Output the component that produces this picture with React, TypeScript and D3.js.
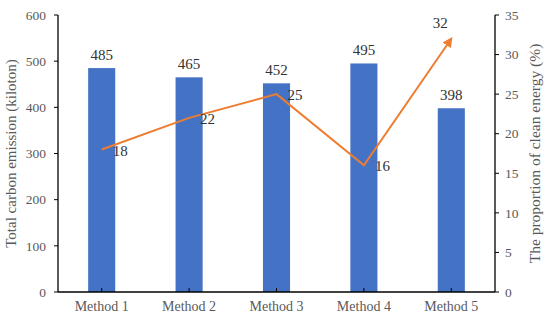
import React from "react";
import * as d3 from "d3";

const methods = ["Method 1", "Method 2", "Method 3", "Method 4", "Method 5"];
const emission = [485, 465, 452, 495, 398];
const cleanShare = [18, 22, 25, 16, 32];
const leftTicks = [0, 100, 200, 300, 400, 500, 600];
const rightTicks = [0, 5, 10, 15, 20, 25, 30, 35];

const W = 550;
const H = 322;
const m = { top: 15, right: 55, bottom: 30, left: 58 };
const FONT = "'Liberation Serif', 'Times New Roman', serif";

export default function App() {
  const x = d3
    .scaleBand()
    .domain(methods)
    .range([m.left, W - m.right])
    .paddingInner(0.69)
    .paddingOuter(0.345);
  const yL = d3.scaleLinear().domain([0, 600]).range([H - m.bottom, m.top]);
  const yR = d3.scaleLinear().domain([0, 35]).range([H - m.bottom, m.top]);
  const cx = (d: string) => (x(d) ?? 0) + x.bandwidth() / 2;

  const pts: [number, number][] = methods.map((d, i) => [cx(d), yR(cleanShare[i])]);
  const line = d3.line()(pts) ?? "";

  const x0 = m.left;
  const x1 = W - m.right;
  const yb = H - m.bottom;

  return (
    <svg
      width={W}
      height={H}
      style={{ position: "absolute", left: 0, top: 0, background: "#fff" }}
      fontFamily={FONT}
    >
      <defs>
        <marker
          id="arr"
          viewBox="0 0 10 10"
          refX="8"
          refY="5"
          markerWidth="5"
          markerHeight="5"
          orient="auto"
        >
          <path d="M0,0 L10,5 L0,10 z" fill="#ED7D31" />
        </marker>
      </defs>

      {/* bars */}
      {methods.map((d, i) => (
        <g key={d}>
          <rect
            x={x(d)}
            y={yL(emission[i])}
            width={x.bandwidth()}
            height={yb - yL(emission[i])}
            fill="#4472C4"
          />
          <text
            x={cx(d)}
            y={yL(emission[i]) - 8}
            textAnchor="middle"
            fontSize={15}
            fill="#333"
          >
            {emission[i]}
          </text>
        </g>
      ))}

      {/* line */}
      <path
        d={line}
        fill="none"
        stroke="#ED7D31"
        strokeWidth={2}
        markerEnd="url(#arr)"
      />
      {pts.map(([px, py], i) =>
        i === pts.length - 1 ? (
          <text key={i} x={px - 11} y={py - 11} textAnchor="middle" fontSize={15} fill="#333">
            {cleanShare[i]}
          </text>
        ) : (
          <text key={i} x={px + 11} y={py} dy="0.4em" fontSize={15} fill="#333">
            {cleanShare[i]}
          </text>
        )
      )}

      {/* axes */}
      <line x1={x0} x2={x1} y1={yb} y2={yb} stroke="#000" strokeWidth={1.3} />
      <line x1={x0} x2={x0} y1={m.top} y2={yb} stroke="#000" strokeWidth={1.3} />
      <line x1={x1} x2={x1} y1={m.top} y2={yb} stroke="#000" strokeWidth={1.3} />

      {leftTicks.map((t) => (
        <g key={"l" + t}>
          <line x1={x0 - 4} x2={x0} y1={yL(t)} y2={yL(t)} stroke="#000" />
          <text
            x={x0 - 12}
            y={yL(t)}
            dy="0.35em"
            textAnchor="end"
            fontSize={13.5}
            fill="#595959"
          >
            {t}
          </text>
        </g>
      ))}
      {rightTicks.map((t) => (
        <g key={"r" + t}>
          <line x1={x1} x2={x1 + 4} y1={yR(t)} y2={yR(t)} stroke="#000" />
          <text
            x={x1 + 10}
            y={yR(t)}
            dy="0.35em"
            textAnchor="start"
            fontSize={13.5}
            fill="#595959"
          >
            {t}
          </text>
        </g>
      ))}
      {methods.map((d) => (
        <g key={"b" + d}>
          <line x1={cx(d)} x2={cx(d)} y1={yb} y2={yb - 4} stroke="#000" />
          <text x={cx(d)} y={yb + 19} textAnchor="middle" fontSize={14} fill="#595959">
            {d}
          </text>
        </g>
      ))}

      <text
        transform={`translate(16,${(m.top + yb) / 2}) rotate(-90)`}
        textAnchor="middle"
        fontSize={15}
        fill="#595959"
      >
        Total carbon emission (kiloton)
      </text>
      <text
        transform={`translate(540,${(m.top + yb) / 2}) rotate(-90)`}
        textAnchor="middle"
        fontSize={15.5}
        fill="#595959"
      >
        The proportion of clean energy (%)
      </text>
    </svg>
  );
}
